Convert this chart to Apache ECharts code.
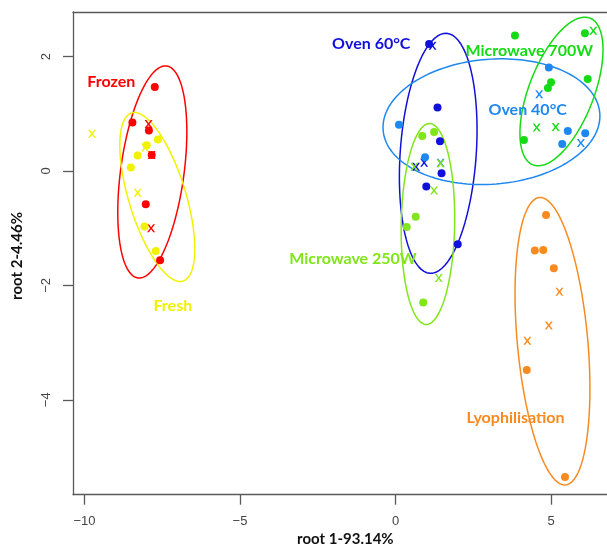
<!DOCTYPE html>
<html><head><meta charset="utf-8">
<script src="https://cdn.jsdelivr.net/npm/echarts@6/dist/echarts.min.js"></script>
<style>html,body{margin:0;padding:0;background:#fff}#c{width:607px;height:549px}</style>
</head><body><div id="c"></div>
<script>
// ---- axis ticks ----
const xTicks = [-10, -5, 0, 5];
const yTicks = [-4, -2, 0, 2];

// ---- group names & colours ----
const groupNames = ['Frozen', 'Fresh', 'Oven 60°C', 'Oven 40°C', 'Microwave 700W', 'Microwave 250W', 'Lyophilisation'];
const groupColors = ['#FF0000', '#F2F200', '#1010DC', '#1E88F0', '#14DC14', '#80E619', '#F98A1F'];

// ---- observations (filled dots) and predicted points (x markers) ----
const frozenDots = [[-7.74, 1.47], [-8.46, 0.85], [-7.93, 0.71], [-7.84, 0.28], [-8.03, -0.58], [-7.57, -1.56]];
const frozenCross = [[-7.94, 0.82], [-7.84, 0.28], [-7.86, -1.00]];
const freshDots = [[-7.64, 0.55], [-8.00, 0.45], [-8.29, 0.27], [-8.51, 0.06], [-8.07, -0.97], [-7.71, -1.40]];
const freshCross = [[-9.76, 0.65], [-8.05, 0.41], [-8.29, -0.38]];
const oven60Dots = [[1.08, 2.22], [1.35, 1.11], [1.43, 0.52], [1.48, -0.04], [0.99, -0.27], [2.00, -1.28]];
const oven60Cross = [[1.19, 2.19], [0.66, 0.075], [0.92, 0.145]];
const oven40Dots = [[0.11, 0.81], [0.95, 0.24], [4.93, 1.81], [5.54, 0.70], [6.10, 0.66], [5.36, 0.47]];
const oven40Cross = [[1.45, 0.145], [4.62, 1.34], [5.96, 0.49]];
const mw700Dots = [[3.84, 2.37], [6.09, 2.41], [5.00, 1.55], [4.90, 1.45], [6.18, 1.61], [4.13, 0.54]];
const mw700Cross = [[6.36, 2.45], [4.54, 0.76], [5.15, 0.77]];
const mw250Dots = [[0.86, 0.61], [1.24, 0.68], [0.65, -0.80], [0.36, -0.98], [0.89, -2.30]];
const mw250Cross = [[0.60, 0.075], [1.45, 0.13], [1.24, -0.34], [1.39, -1.87]];
const lyoDots = [[4.84, -0.77], [4.48, -1.39], [4.75, -1.38], [5.09, -1.70], [4.22, -3.48], [5.45, -5.35]];
const lyoCross = [[5.27, -2.11], [4.93, -2.70], [4.24, -2.97]];

// ---- confidence ellipses: [centreX, centreY, axis1X, axis1Y, axis2X, axis2Y] (data units) ----
const frozenEllipse = [-7.82, -0.017, 0.461, 1.854, 1.010, -0.074];
const freshEllipse = [-7.66, -0.455, -0.827, 1.471, 0.876, 0.146];
const oven60Ellipse = [1.373, 0.309, 0.270, 2.098, 1.219, -0.046];
const oven40Ellipse = [3.085, 0.862, 3.483, 0.149, 0.158, -1.089];
const mw700Ellipse = [5.336, 1.390, 0.916, 1.284, 0.972, -0.205];
const mw250Ellipse = [1.042, -0.927, 0.056, 1.757, 0.859, -0.008];
const lyoEllipse = [5.047, -2.976, -0.421, 2.514, 1.128, 0.056];

// ---- group label anchor positions (data units) ----
const labelPos = [[-9.14, 1.56], [-7.16, -2.36], [-0.78, 2.22], [4.25, 1.07], [4.30, 2.10], [-1.37, -1.54], [3.86, -4.32]];

const dotsAll = [frozenDots, freshDots, oven60Dots, oven40Dots, mw700Dots, mw250Dots, lyoDots];
const crossAll = [frozenCross, freshCross, oven60Cross, oven40Cross, mw700Cross, mw250Cross, lyoCross];
const ellAll = [frozenEllipse, freshEllipse, oven60Ellipse, oven40Ellipse, mw700Ellipse, mw250Ellipse, lyoEllipse];

function ellipsePts(e) {
  const pts = [];
  const n = 160;
  for (let i = 0; i <= n; i++) {
    const t = 2 * Math.PI * i / n;
    pts.push([e[0] + e[2] * Math.cos(t) + e[4] * Math.sin(t), e[1] + e[3] * Math.cos(t) + e[5] * Math.sin(t)]);
  }
  return pts;
}

const crossPath = 'path://M0,0L2.3,0L5,3.7L7.7,0L10,0L6.2,5L10,10L7.7,10L5,6.3L2.3,10L0,10L3.8,5Z';
const series = [];
const FONT = 'Lato, "Open Sans", sans-serif';
groupNames.forEach((g, i) => {
  series.push({
    type: 'line', name: g + ' ellipse', data: ellipsePts(ellAll[i]), showSymbol: false, symbol: 'none',
    smooth: false, lineStyle: { color: groupColors[i], width: 1.5 }, silent: true, z: 2
  });
});
groupNames.forEach((g, i) => {
  series.push({
    type: 'scatter', name: g, data: dotsAll[i], symbol: 'circle', symbolSize: 8,
    itemStyle: { color: groupColors[i], opacity: 1 }, z: 3
  });
  series.push({
    type: 'scatter', name: g + ' x', data: crossAll[i], symbol: crossPath, symbolSize: [8, 8],
    itemStyle: { color: groupColors[i], opacity: 1 }, z: 3
  });
});
series.push({
  type: 'scatter', name: 'labels', symbol: 'circle', symbolSize: 1, z: 4, silent: true,
  itemStyle: { color: 'rgba(0,0,0,0)', opacity: 1 },
  data: groupNames.map((g, i) => ({
    name: g, value: labelPos[i],
    label: { show: true, position: 'inside', formatter: g, color: groupColors[i], opacity: 1, fontSize: 16, fontWeight: 'bold', fontFamily: FONT }
  }))
});

const chart = echarts.init(document.getElementById('c'), null, { renderer: 'canvas' });
const fmt = v => String(v).replace('-', '\u2212');
chart.setOption({
  animation: false,
  backgroundColor: '#fff',
  grid: { left: 73, top: 12, right: 0, bottom: 54.3 },
  xAxis: [{
    type: 'value', min: -10.37, max: 6.8, position: 'bottom',
    axisLine: { show: true, onZero: false, lineStyle: { color: '#5a5a5a', width: 1.3 } },
    axisTick: { show: true, customValues: xTicks, length: 10, lineStyle: { color: '#5a5a5a', width: 1.3 } },
    axisLabel: { customValues: xTicks, formatter: fmt, color: '#444', fontSize: 13, margin: 20, fontFamily: '"Liberation Sans", Arial, sans-serif' },
    splitLine: { show: false }
  }, {
    type: 'value', min: -10.37, max: 6.8, position: 'top',
    axisLine: { show: true, onZero: false, lineStyle: { color: '#5a5a5a', width: 1.3 } },
    axisTick: { show: false }, axisLabel: { show: false }, splitLine: { show: false }
  }],
  yAxis: {
    type: 'value', min: -5.66, max: 2.78,
    axisLine: { show: true, onZero: false, lineStyle: { color: '#5a5a5a', width: 1.3 } },
    axisTick: { show: true, customValues: yTicks, length: 10, lineStyle: { color: '#5a5a5a', width: 1.3 } },
    axisLabel: { customValues: yTicks, formatter: fmt, rotate: 90, color: '#444', fontSize: 13, margin: 20, fontFamily: '"Liberation Sans", Arial, sans-serif' },
    splitLine: { show: false }
  },
  graphic: [
    { type: 'text', left: 297, top: 532, style: { text: 'root 1-93.14%', font: 'bold 15px ' + FONT, fill: '#111' } },
    { type: 'text', x: 10, y: 300, rotation: Math.PI / 2, style: { text: 'root 2-4.46%', font: 'bold 15px ' + FONT, fill: '#111' } }
  ],
  series: series
});
</script>
</body></html>
